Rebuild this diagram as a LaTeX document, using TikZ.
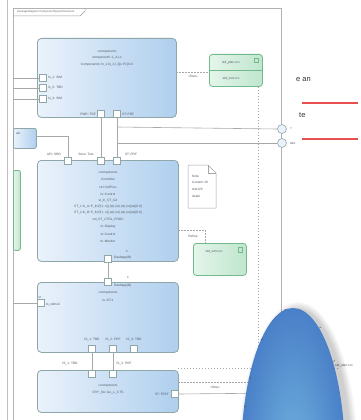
\documentclass[tikz,border=0pt]{standalone}
\usepackage{fontspec}
\setmainfont{Liberation Sans}
\usetikzlibrary{calc}
\definecolor{boxL}{HTML}{EAF2FB}
\definecolor{boxR}{HTML}{AFCFEE}
\definecolor{boxB}{HTML}{8FA7A8}
\definecolor{grnL}{HTML}{E4F5EA}
\definecolor{grnR}{HTML}{BFE6CE}
\definecolor{grnB}{HTML}{72B98C}
\definecolor{wire}{HTML}{A8A8A8}
\definecolor{txt}{HTML}{505860}
\definecolor{myred}{RGB}{232,80,80}
\definecolor{ellD}{HTML}{4A80C8}
\definecolor{ellL}{HTML}{6FB0DD}
\newcommand\tf{\fontsize{3.2}{3.8}\selectfont}
\begin{document}
\begin{tikzpicture}[x=1pt,y=-1pt,
  comp/.style={draw=boxB, line width=0.8pt, rounded corners=4pt, left color=boxL, right color=boxR, anchor=north west, inner sep=0pt},
  grn/.style={draw=grnB, line width=0.8pt, rounded corners=3pt, left color=grnL, right color=grnR, anchor=north west, inner sep=0pt},
  port/.style={draw=boxB, fill=white, line width=0.5pt, minimum size=7pt, inner sep=0pt},
  fport/.style={circle, draw=boxB, fill=boxL, line width=0.6pt, minimum size=9pt, inner sep=0pt},
  lab/.style={font=\tf, text=txt, inner sep=0pt},
  wirel/.style={draw=wire, line width=0.6pt},
  dashw/.style={draw=wire, line width=0.6pt, dash pattern=on 1.5pt off 1.5pt},
  redline/.style={draw=myred, line width=1.1pt},
  big/.style={font=\fontsize{7.5}{9}\selectfont, text=black!80, inner sep=0pt, anchor=west}
]
\useasboundingbox (0,0) rectangle (361,420);
\fill[white] (0,0) rectangle (361,420);

% outer lines and frame
\draw[wirel, draw=black!25] (7,0) -- (7,420);
\draw[wirel, draw=black!30, line width=0.8pt] (13,420) -- (13,8) -- (281,8) -- (281,420);
\draw[wirel, draw=black!40, line width=0.5pt] (13,16) -- (80,16) -- (85,11) -- (85,8);
\node[lab, text=black!60] (ftab) at (46,12) {{\fontsize{2.8}{3}\selectfont packageDiagram ComponentSystemStructure}};

% top component
\node[comp, minimum width=139pt, minimum height=79pt] (top) at (37,38) {};
\node[lab] (t1) at (107,52) {«component»};
\node[lab] (t2) at (107,58) {componentX::L\_X.L1};
\node[lab] (t3) at (107,65) {ComponentA::ln\_1.ln\_2.l\_2[L:P1]:0.0};
\node[port] (tp1) at (43,78) {};
\node[port] (tp2) at (43,88) {};
\node[port] (tp3) at (43,99) {};
\node[lab, anchor=west] at (48,78) {ln\_1: SIM};
\node[lab, anchor=west] at (48,88) {ln\_2: TBD};
\node[lab, anchor=west] at (48,99) {ln\_3: SIM};
\coordinate (l1) at (13,78);
\coordinate (l2) at (13,88);
\coordinate (l3) at (13,99);
\draw[wirel] (l1) -- (tp1.west);
\draw[wirel] (l2) -- (tp2.west);
\draw[wirel] (l3) -- (tp3.west);
\node[port] (tb1) at (101,114) {};
\node[port] (tb2) at (117,114) {};
\node[lab, anchor=east] at (96,114) {PWR: TRF};
\node[lab, anchor=west] at (122,114) {ST: PRF};

% top right green box
\node[grn, minimum width=53pt, minimum height=32pt] (g1) at (209,54) {};
\draw[grnB, line width=0.5pt] (209,70) -- (262,70);
\node[lab] at (231,63) {std\_plan:ccc};
\node[lab] at (231,79) {std\_sim:ccc};
\draw[grnB, line width=0.4pt] (254,58) rectangle (258,62);
\coordinate (tr) at (176,72);
\draw[dashw] (tr) -- (g1.west |- tr);
\node[lab] at (193,76) {«flow»};

% frame ports
\node[fport] (fp1) at (282,129) {};
\node[fport] (fp2) at (282,143) {};
\node[lab, anchor=west] at (290,129) {+};
\node[lab, anchor=west] at (290,143) {abc};

% left small boxes
\node[comp, rounded corners=2pt, minimum width=23pt, minimum height=20pt] (lb) at (13,128) {};
\node[lab, anchor=west] at (16,133) {ab:};
\node[grn, rounded corners=2pt, minimum width=7pt, minimum height=80pt] (lg) at (13,170) {};

% middle component
\node[comp, minimum width=141pt, minimum height=101pt] (mid) at (37,160) {};
\node[port] (mp1) at (68,161) {};
\node[port] (mp2) at (101,161) {};
\node[port] (mp3) at (117,161) {};
\node[lab] at (54,154) {UPI: SBO};
\node[lab] at (86,154) {Stow: Test};
\node[lab] at (131,154) {ST: PRF};
\node[lab] at (108,173) {«component»};
\node[lab] at (108,179) {Controller};
\node[lab] at (108,187) {ctrl::CtrlProc};
\node[lab] at (108,194) {ts::Control};
\node[lab] at (108,201) {st\_ln\_ST\_G2};
\node[lab] at (108,207) {ST\_1.ln\_A::P\_fn(P[1..n]).(st).(st).(st).(st)(st)[0.0]};
\node[lab] at (108,213) {ST\_2.ln\_B::P\_fn(P[1..n]).(st).(st).(st).(st)(st)[0.0]};
\node[lab] at (108,220) {ctrl\_ST\_CTRL\_PROC};
\node[lab] at (108,227) {ts::Display};
\node[lab] at (108,234) {st::Control};
\node[lab] at (108,241) {ts::Monitor};
\node[port] (mb) at (108,259) {};
\node[lab, anchor=west] at (114,258) {Dashapp(B)};
\node[lab] at (127,251) {1};

% connectors top->mid
\draw[wirel] (tb1.south) -- (mp2.north);
\draw[wirel] (tb2.south) -- (mp3.north);
\coordinate (j1) at (117,127);
\coordinate (j2) at (117,143);
\draw[wirel] (j1) -- (fp1.west);
\draw[wirel] (j2) -- (fp2.west);
\draw[wirel] (lb.east |- 0,136) -- (68,136) -- (mp1.north);

% note
\draw[draw=black!35, fill=white, line width=0.5pt] (188,165) -- (208,165) -- (216,173) -- (216,208) -- (188,208) -- cycle;
\draw[draw=black!35, line width=0.5pt] (208,165) -- (208,173) -- (216,173);
\node[lab, anchor=west] (n1) at (192,176) {Note};
\node[lab, anchor=west] (n2) at (192,182) {Content 10};
\node[lab, anchor=west] (n3) at (192,189) {text123};
\node[lab, anchor=west] (n4) at (192,196) {detail};

% small green box
\node[grn, minimum width=53pt, minimum height=32pt] (g2) at (193,243) {};
\node[lab] at (214,252) {std\_sim:ccc};
\draw[grnB, line width=0.4pt] (238,247) rectangle (242,252);
\coordinate (mr) at (178,230);
\draw[dashw] (mr) -- (205,230) -- (g2.north -| 205,0);
\node[lab] at (193,236) {Refine};

% right dotted vertical
\coordinate (dv) at (258,368);
\draw[dashw, dash pattern=on 1pt off 2pt] (g1.south -| 258,0) -- (dv);
\coordinate (fb) at (281,393);

% bottom-middle component
\node[comp, minimum width=141pt, minimum height=70pt] (c3) at (37,282) {};
\node[port] (c3t) at (108,282) {};
\node[lab, anchor=west] at (114,286) {Dashapp(B)};
\node[lab] at (128,277) {1};
\node[lab] at (108,293) {«component»};
\node[lab] at (108,300) {ts::CT:1};
\node[port] (c3l) at (41,303) {};
\node[lab, anchor=west] at (46,305) {ts\_stimuli};
\node[lab] at (40,297) {In};
\coordinate (l4) at (13,303);
\draw[wirel] (l4) -- (c3l.west);
\node[port] (c3b1) at (92,349) {};
\node[port] (c3b2) at (113,349) {};
\node[port] (c3b3) at (134,349) {};
\node[lab] at (92,340) {IS\_1: TBD};
\node[lab] at (113,340) {IS\_2: PRF};
\node[lab] at (134,340) {IS\_3: TBD};
\draw[wirel] (mb.south) -- (c3t.north);

% bottom component
\node[comp, minimum width=141pt, minimum height=42pt] (c4) at (37,370) {};
\node[port] (c4t1) at (92,374) {};
\node[port] (c4t2) at (113,374) {};
\node[lab] at (108,386) {«component»};
\node[lab] at (108,393) {CRY\_SA::ts1\_L\_X.TS};
\node[port] (c4r) at (175,394) {};
\node[lab, anchor=east] at (169,394) {ST: TEST};
\draw[wirel] (c3b1.south) -- (c4t1.north);
\draw[wirel] (c3b2.south) -- (c4t2.north);
\node[lab] at (70,364) {IS\_1: TBD};
\node[lab] at (124,364) {IS\_2: PRF};

% bottom right connectors
\draw[wirel] (c4r.east) -- (fb);
\coordinate (d1) at (178,368);
\coordinate (d2) at (338,368);
\draw[dashw, dash pattern=on 1pt off 2pt] (d1) -- (d2);
\node[lab, anchor=west] at (335,366) {std\_plan:ccc};
\coordinate (d3) at (178,382);
\coordinate (d4) at (250,382);
\draw[dashw] (d3) -- (d4);
\node[lab] at (215,387) {«flow»};

% right-hand text and red lines
\node[big] (e1) at (296,80) {e an};
\node[big] (e2) at (299,115) {te};
\coordinate (r1a) at (302,103);
\coordinate (r1b) at (358,103);
\coordinate (r2a) at (302,139);
\coordinate (r2b) at (358,139);
\draw[redline] (r1a) -- (r1b);
\draw[redline] (r2a) -- (r2b);

% blue ellipse with soft shadow
\begin{scope}
\clip (0,0) rectangle (361,420);
\foreach \k in {1,...,8}{
  \fill[black, opacity=0.025] (298,460) ellipse[x radius=52pt+\k pt, y radius=150pt+\k pt];
}
\shade[inner color=ellL, outer color=ellD] (293,458) ellipse[x radius=52pt, y radius=150pt];
\foreach \a in {100,128,148,160,60,40}{
  \draw[black!70, line width=0.4pt] ($(293,458)+({52*cos(\a)},{-150*sin(\a)})$) -- ++(2,-1);
}
\end{scope}
\end{tikzpicture}
\end{document}
